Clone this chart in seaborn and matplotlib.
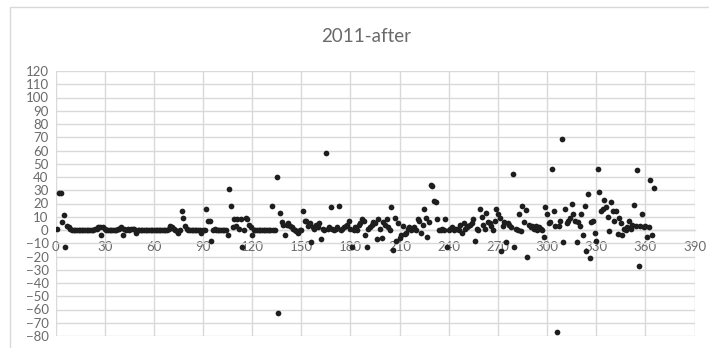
import numpy as np
import pandas as pd
import matplotlib
matplotlib.use("Agg")
import matplotlib.pyplot as plt
import seaborn as sns

# Daily values, day 1 .. 365 (ten per row)
values = [
    1, 28, 28, 6, 11, -13, 3, 2, 1, 0,
    0, 0, 0, 0, 0, 0, 0, 0, 0, 0,
    0, 0, 0, 1, 1, 2, 2, -4, 2, 1,
    0, 0, 0, 0, 0, 0, 0, 1, 1, 2,
    -4, 1, 0, 1, 0, 1, 1, 1, -2, 0,
    0, 0, 0, 0, 0, 0, 0, 0, 0, 0,
    0, 0, 0, 0, 0, 0, 0, 0, 1, 3,
    2, 1, 0, -1, -2, 0, 14, 9, 3, 1,
    0, 0, 0, 0, 0, 0, 0, 0, -2, 0,
    0, 16, 7, 7, -8, 0, 1, 0, 0, 0,
    0, 0, 0, 0, -4, 31, 18, 2, 8, 3,
    8, 1, 8, -13, 0, 9, 8, 4, 2, -4,
    0, 0, 0, 0, 0, 0, 0, 0, 0, 0,
    0, 18, 0, 0, 40, -63, 13, 6, 4, -4,
    4, 5, 3, 2, 1, 0, -1, -2, 0, 0,
    14, 7, 7, 3, 5, -9, 2, 1, 4, 2,
    5, -7, 1, 0, 58, 1, 2, 17, 1, 0,
    1, 2, 18, 0, 1, 2, 3, 4, 7, 1,
    -13, 0, 2, 0, 4, 5, 8, 7, -4, -13,
    1, 2, 4, 6, 5, -7, 8, 1, -6, 6,
    4, 8, 2, 0, 17, -15, 9, -8, 5, -6,
    -4, 3, -3, -2, 1, 2, 0, 1, 2, 0,
    8, 7, -2, 4, 16, 9, -5, 6, 34, 33,
    22, 21, 8, 0, 0, 1, 0, 8, -13, 0,
    1, 2, 0, 1, 1, 0, 4, -2, 5, 1,
    2, 3, 4, 5, 8, -8, 1, 0, 16, 10,
    4, 1, 13, 6, 5, 3, 0, 7, 16, 12,
    9, -16, 3, 6, -9, 5, 4, 2, 42, -13,
    1, 0, 12, -1, 18, 6, 15, -20, 4, 2,
    3, 1, 3, 0, 2, 1, 0, -5, 17, 12,
    5, 6, 46, 14, 3, -77, 3, 7, 69, -9,
    16, 5, 7, 9, 20, 12, 7, -9, 6, 3,
    12, -4, 18, -16, 27, -21, 6, 7, -2, -8,
    46, 29, 14, 16, 23, 17, 10, -1, 21, 14,
    7, 14, -3, 9, 5, -4, 1, 0, 2, 7,
    1, 4, 19, 3, 45, -27, 3, 12, 2, 3,
    -5, 2, 38, -4, 32,
]
days = list(range(1, len(values) + 1))

title = "2011-after"
x_ticks = list(range(0, 391, 30))
y_ticks = list(range(-80, 121, 10))

df = pd.DataFrame({"day": days, "value": values})

sns.set_theme(style="whitegrid")
plt.rcParams["font.family"] = ["Lato", "DejaVu Sans"]

W, H = 709, 348
fig = plt.figure(figsize=(W / 100, H / 100), dpi=100)
fig.patch.set_facecolor("white")

# light frame around the chart area
frame = plt.Rectangle((10 / W, -0.05), 1.2, 1 - 7 / H + 0.05,
                      transform=fig.transFigure, fill=False,
                      edgecolor="#d9d9d9", linewidth=1.0)
fig.patches.append(frame)

left, right = 55.6 / W, 694.5 / W
top, bottom = 1 - 71 / H, 1 - 336 / H
ax = fig.add_axes([left, bottom, right - left, top - bottom])

sns.scatterplot(data=df, x="day", y="value", ax=ax, color="#1e1e1e",
                s=17, linewidth=0, zorder=3)

ax.set_xlim(0, 390)
ax.set_ylim(-80, 120)
ax.set_xticks(x_ticks)
ax.set_yticks(y_ticks)
ax.set_xlabel("")
ax.set_ylabel("")

ax.grid(True, color="#d9d9d9", linewidth=1.0)
for side in ["top", "right", "left"]:
    ax.spines[side].set_visible(False)
# horizontal axis crosses at zero, labels sit just below it
ax.spines["bottom"].set_position(("data", 0))
ax.spines["bottom"].set_color("#d9d9d9")
ax.spines["bottom"].set_linewidth(1.0)

ax.tick_params(axis="both", length=0, colors="#6a6a6a", labelsize=9.5)
ax.tick_params(axis="x", pad=8)
ax.tick_params(axis="y", pad=5)

fig.text(366 / W, 1 - 36 / H, title, ha="center", va="center",
         fontsize=13.5, color="#6a6a6a")

fig.savefig("out.png", dpi=100, facecolor="white")
